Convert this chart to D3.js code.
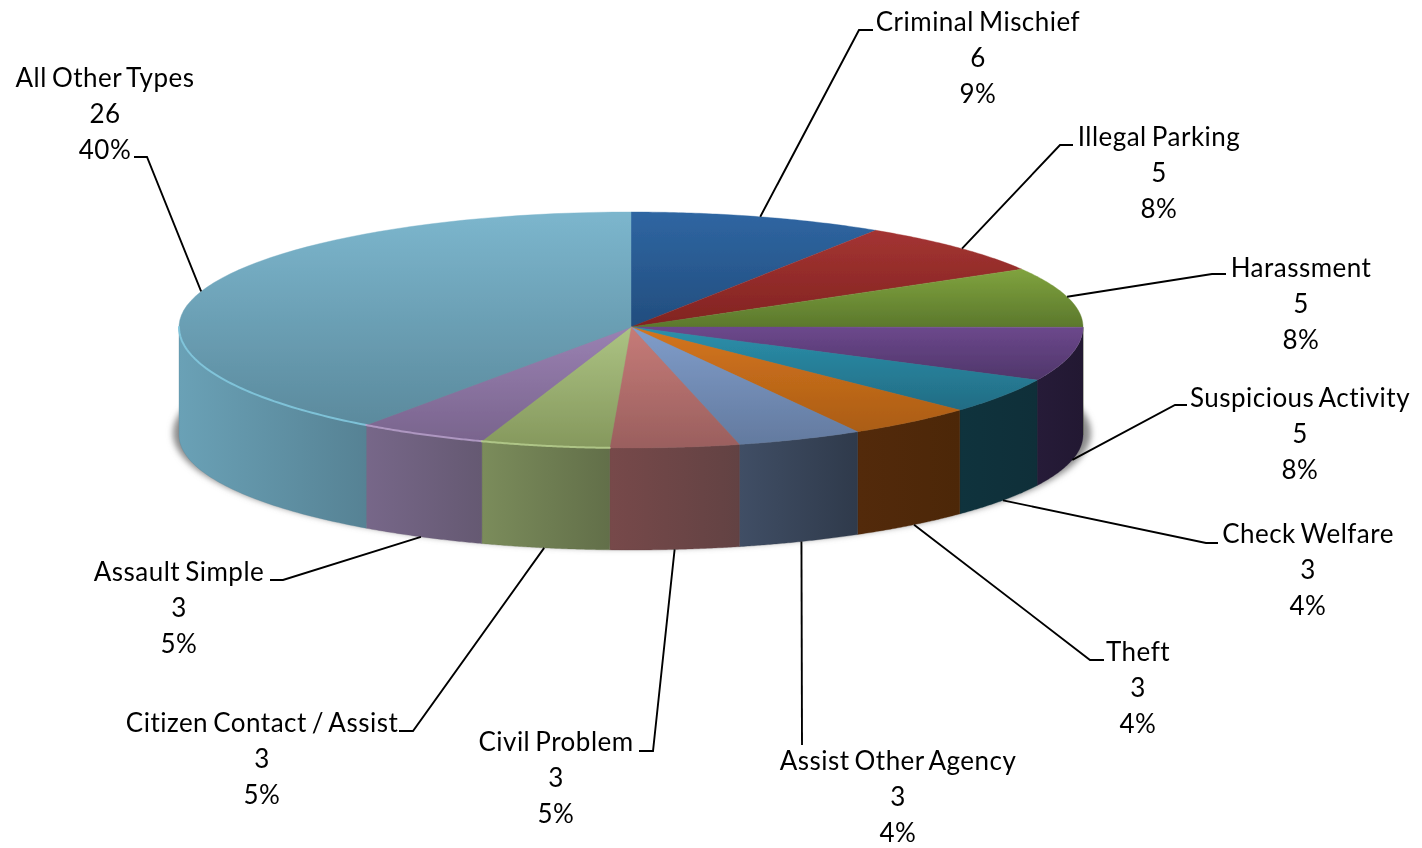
<!DOCTYPE html>
<html>
<head>
<meta charset="utf-8">
<script src="https://cdn.jsdelivr.net/npm/d3@7/dist/d3.min.js"></script>
<style>
html,body{margin:0;padding:0;background:#fff;overflow:hidden}
svg{display:block}
text{font-family:"Lato","Open Sans",sans-serif;font-size:26px;letter-spacing:0.48px;word-spacing:-2px;fill:#000}
</style>
</head>
<body>
<svg id="chart" width="1422" height="848"></svg>
<script>
// --- data ---
const categories = ["Criminal Mischief","Illegal Parking","Harassment","Suspicious Activity","Check Welfare","Theft","Assist Other Agency","Civil Problem","Citizen Contact / Assist","Assault Simple","All Other Types"];
const counts = [6,5,5,5,3,3,3,3,3,3,26];
const percentLabels = ["9%","8%","8%","8%","4%","4%","4%","5%","5%","5%","40%"];
// unrounded slice shares (%), estimated from the slice boundaries in the picture
const sliceShares = [9.1,7.5,8.4,7.2,4.8,4.6,4.5,4.6,4.6,4.6,40];

// --- styles ---
const topColors = [["#2F66A2","#224D7E"],["#A43432","#812321"],["#80A33E","#5B782C"],["#6C488C","#4F366A"],["#2B90AB","#226C84"],["#D4751E","#AB5D15"],["#809DCA","#637A9F"],["#C67B78","#9A5F5E"],["#ACC383","#85985D"],["#9A81B2","#79648D"],["#7CB6CD","#5B8A9D"]];
const sideColors = [["#1F3A5E","#1F3A5E"],["#5A1A18","#5A1A18"],["#465A20","#465A20"],["#261B38","#221832"],["#0F333D","#0F2F39"],["#532A0B","#4C2708"],["#404E65","#2F3A4B"],["#77494A","#624243"],["#7B8C5B","#626F49"],["#776789","#655972"],["#6AA1B6","#568294"]];
// label block centre x, first line centre y, elbow x/y, end x
const layout = [
 {tx:978,ty:21,ex:859,ey:30,fx:873},
 {tx:1159,ty:136,ex:1060,ey:145,fx:1073},
 {tx:1301,ty:267,ex:1212,ey:274,fx:1226},
 {tx:1300,ty:397,ex:1175,ey:405,fx:1187},
 {tx:1308,ty:533,ex:1206,ey:543,fx:1218},
 {tx:1138,ty:651,ex:1090,ey:660,fx:1104},
 {tx:898,ty:760,ex:802,ey:745,fx:802},
 {tx:556,ty:741,ex:653,ey:751,fx:639},
 {tx:262,ty:722,ex:413,ey:731,fx:399},
 {tx:179,ty:571,ex:283,ey:580,fx:270},
 {tx:105,ty:77,ex:147,ey:157,fx:134}
];
const lineStep = 36;

// --- geometry ---
const cx = 631, cy = 327, rx = 452, ryBack = 115, ryFront = 121;
const bottomCy = 435, bottomRy = 115;
const svg = d3.select("#chart");
const defs = svg.append("defs");
const pie = d3.pie().sort(null).value(d => d);
const slices = pie(sliceShares);
const anchors = pie(counts);

const topPt = a => { const c = Math.cos(a); return [cx + rx*Math.sin(a), cy - c*(c>=0?ryBack:ryFront)]; };
const botPt = a => [cx + rx*Math.sin(a), bottomCy - bottomRy*Math.cos(a)];
const line = d3.line();
const sample = (a0,a1,f) => d3.range(0,61).map(i => f(a0+(a1-a0)*i/60));

// gradients
function grad(id,stops,vertical){
  const g = defs.append("linearGradient").attr("id",id)
    .attr("x1","0").attr("y1","0").attr("x2",vertical?"0":"1").attr("y2",vertical?"1":"0");
  g.append("stop").attr("offset","0").attr("stop-color",stops[0]);
  g.append("stop").attr("offset","1").attr("stop-color",stops[1]);
}
slices.forEach((s,i)=>{ grad("top"+i,topColors[i],true); grad("side"+i,sideColors[i],false); });

const blur = defs.append("filter").attr("id","shadow").attr("x","-5%").attr("y","-10%").attr("width","110%").attr("height","120%");
blur.append("feGaussianBlur").attr("stdDeviation",3);
const soft = defs.append("filter").attr("id","soft").attr("x","-2%").attr("y","-2%").attr("width","104%").attr("height","104%");
soft.append("feGaussianBlur").attr("stdDeviation",0.6);

// shadow
svg.append("ellipse").attr("cx",cx+1).attr("cy",bottomCy-2).attr("rx",rx+7).attr("ry",bottomRy)
  .attr("fill","#8a8a8a").attr("filter","url(#shadow)");

// sides (front half only)
const sides = svg.append("g");
slices.forEach((s,i)=>{
  const a0 = Math.max(s.startAngle,Math.PI/2), a1 = Math.min(s.endAngle,Math.PI*1.5);
  if (a1 <= a0) return;
  const pts = sample(a0,a1,topPt).concat(sample(a1,a0,botPt));
  sides.append("path").attr("d",line(pts)+"Z").attr("fill",`url(#side${i})`)
    .attr("stroke",sideColors[i][1]).attr("stroke-width",0.3);
});

// tops
const tops = svg.append("g").attr("filter","url(#soft)");
slices.forEach((s,i)=>{
  const pts = [[cx,cy]].concat(sample(s.startAngle,s.endAngle,topPt));
  tops.append("path").attr("d",line(pts)+"Z").attr("fill",`url(#top${i})`)
    .attr("stroke",`url(#top${i})`).attr("stroke-width",0.4);
});

// rim highlight on the front-left edge
const rim = svg.append("g").attr("fill","none").attr("stroke-linecap","round").attr("filter","url(#soft)");
[[10,"#82C8DE"],[9,"#B49CC6"],[8,"#B4CB8C"]].forEach(([i,c])=>{
  const s = slices[i];
  const a1 = Math.min(s.endAngle,Math.PI*1.5);
  rim.append("path").attr("d",line(sample(s.startAngle,a1,topPt))).attr("stroke",c).attr("stroke-width",2).attr("opacity",0.9);
});

// leader lines
const leaders = svg.append("g").attr("fill","none").attr("stroke","#000").attr("stroke-width",1.9);
anchors.forEach((s,i)=>{
  const m = (s.startAngle+s.endAngle)/2;
  const upper = Math.cos(m) > 0;
  const a = upper ? topPt(m) : botPt(m);
  const L = layout[i];
  leaders.append("path").attr("d",line([a,[L.ex,L.ey],[L.fx,L.ey]]));
});

// labels
const labels = svg.append("g").attr("text-anchor","middle");
categories.forEach((name,i)=>{
  const L = layout[i];
  [name,String(counts[i]),percentLabels[i]].forEach((t,j)=>{
    labels.append("text").attr("x",L.tx).attr("y",L.ty+j*lineStep+0.6).attr("dy","0.36em").text(t);
  });
});
</script>
</body>
</html>
